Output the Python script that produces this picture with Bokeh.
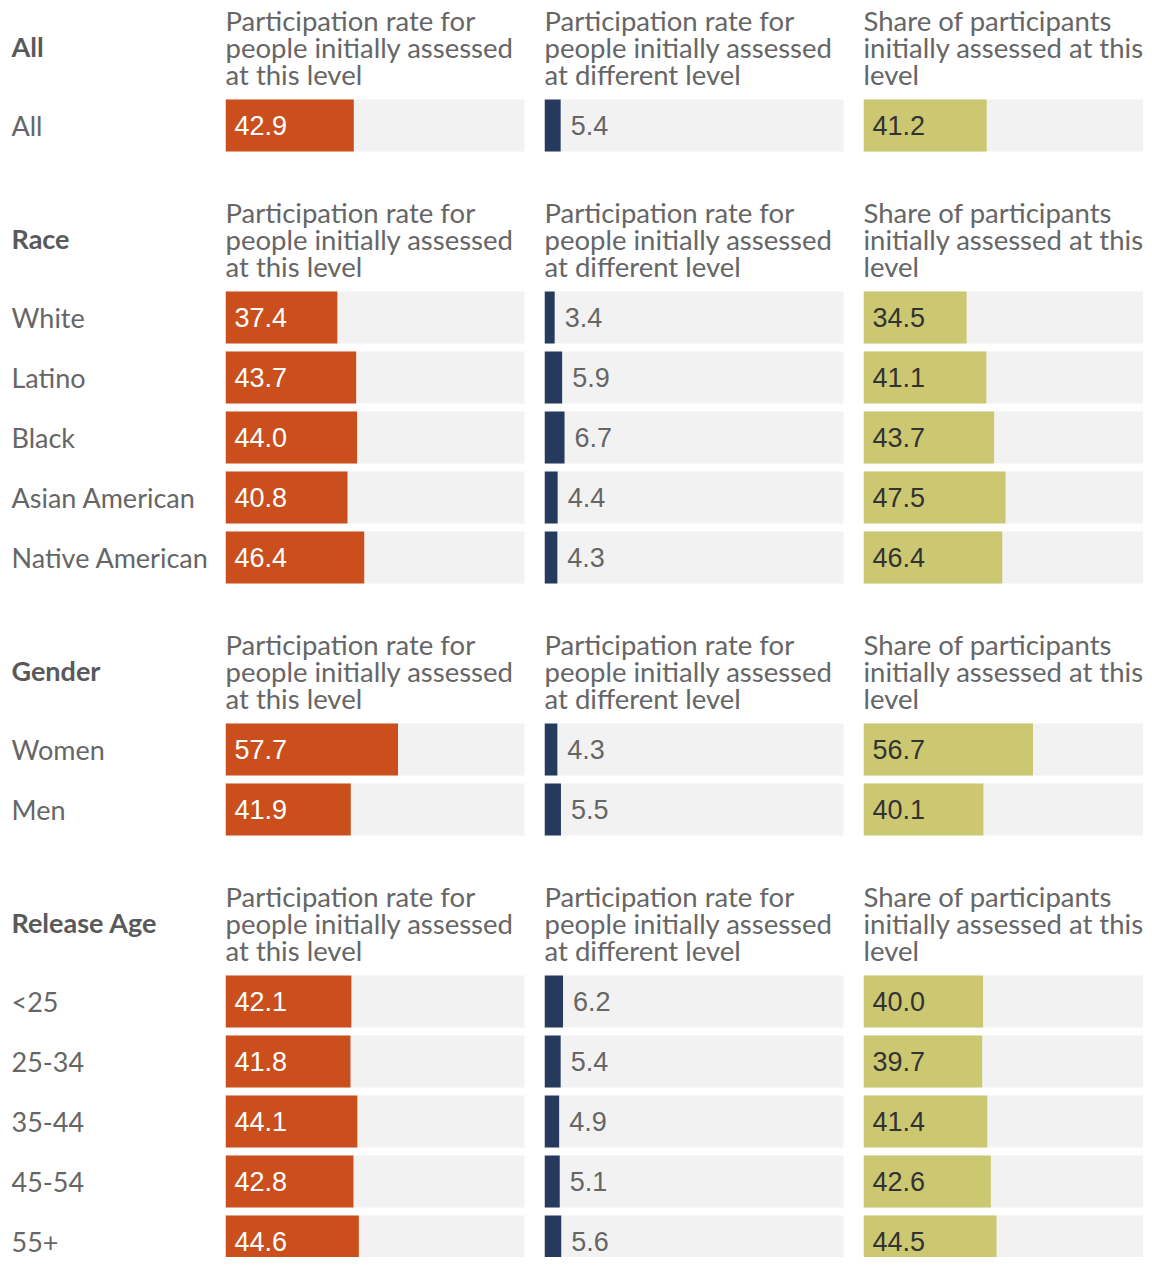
from bokeh.plotting import figure
from bokeh.layouts import row
from bokeh.models import Range1d, ColumnDataSource
from bokeh.embed import file_html
from bokeh.resources import INLINE
from bokeh.core.properties import value

# ---------------- data ----------------
groups = ["All", "Race", "Gender", "Release Age"]
group_rows = [
    ["All"],
    ["White", "Latino", "Black", "Asian American", "Native American"],
    ["Women", "Men"],
    ["<25", "25-34", "35-44", "45-54", "55+"],
]
same_level = [42.9, 37.4, 43.7, 44.0, 40.8, 46.4, 57.7, 41.9, 42.1, 41.8, 44.1, 42.8, 44.6]
diff_level = [5.4, 3.4, 5.9, 6.7, 4.4, 4.3, 4.3, 5.5, 6.2, 5.4, 4.9, 5.1, 5.6]
share_same = [41.2, 34.5, 41.1, 43.7, 47.5, 46.4, 56.7, 40.1, 40.0, 39.7, 41.4, 42.6, 44.5]
col_titles = [
    ["Participation rate for", "people initially assessed", "at this level"],
    ["Participation rate for", "people initially assessed", "at different level"],
    ["Share of participants", "initially assessed at this", "level"],
]

# ---------------- layout constants ----------------
H = 1257
ROW_PX = 60.0
TOP = 125 / 60.0     # first bar centre (row units)
GROUP_GAP = 3.2      # centre-to-centre between groups
BAR_H = 52 / 60.0
HEAD_OFF = [-1.75, -1.30, -0.85]
GROUP_LABEL_OFF = -1.31
PX_PER_PCT = 2.99

LABEL_FONT = "Lato"
VAL_FONT = "Liberation Sans"
GRAY = "#666666"
COLORS = ["#CA4F1C", "#253A5C", "#CCC872"]
VAL_COLORS = ["#FFFFFF", "#666666", "#333333"]
BG = "#F2F2F2"

# y positions
row_y, row_names, group_first = [], [], []
pos = TOP
for gi, rows in enumerate(group_rows):
    if gi > 0:
        pos += GROUP_GAP - 1
    group_first.append(pos)
    for r in rows:
        row_y.append(pos)
        row_names.append(r)
        pos += 1
yr_end = H / ROW_PX


def base_fig(w, xmax):
    p = figure(width=w, height=H, x_range=Range1d(0, xmax),
               y_range=Range1d(yr_end, 0), output_backend="svg",
               toolbar_location=None, min_border=0)
    p.axis.visible = False
    p.grid.visible = False
    p.outline_line_color = None
    p.background_fill_color = None
    p.border_fill_color = None
    return p


# label column
WL = 225
pl = base_fig(WL, WL)
pl.text(x=[11] * len(row_y), y=row_y, text=row_names, text_font=value(LABEL_FONT),
        text_font_size="27px", text_color=GRAY, text_baseline="middle", text_align="left")
pl.text(x=[11] * len(groups), y=[g + GROUP_LABEL_OFF for g in group_first], text=groups,
        text_font=value(LABEL_FONT), text_font_size="27px", text_font_style="bold",
        text_color="#595959", text_baseline="middle", text_align="left")

figs = [pl]
widths = [319, 319, 280]
series = [same_level, diff_level, share_same]
for ci in range(3):
    w = widths[ci]
    p = base_fig(w, w / PX_PER_PCT)
    vals = series[ci]
    src = ColumnDataSource(dict(y=row_y, v=vals, lab=[f"{v:.1f}" for v in vals]))
    p.hbar(y="y", left=0, right=100, height=BAR_H, source=src, color=BG, line_color=None)
    p.hbar(y="y", left=0, right="v", height=BAR_H, source=src, color=COLORS[ci], line_color=None)
    if ci == 1:
        p.text(x="v", y="y", text="lab", source=src, x_offset=10, text_font=value(VAL_FONT),
               text_font_size="27px", text_color=VAL_COLORS[ci], text_baseline="middle",
               text_align="left")
    else:
        p.text(x=0, y="y", text="lab", source=src, x_offset=9, text_font=value(VAL_FONT),
               text_font_size="27px", text_color=VAL_COLORS[ci], text_baseline="middle",
               text_align="left")
    hx, hy, ht = [], [], []
    for g in group_first:
        for li, line in enumerate(col_titles[ci]):
            hx.append(0)
            hy.append(g + HEAD_OFF[li])
            ht.append(line)
    p.text(x=hx, y=hy, text=ht, x_offset=0, text_font=value(LABEL_FONT), text_font_size="27.5px",
           text_color=GRAY, text_baseline="middle", text_align="left")
    figs.append(p)

layout = row(figs, spacing=0)
open("out.html", "w").write(file_html(layout, INLINE))
